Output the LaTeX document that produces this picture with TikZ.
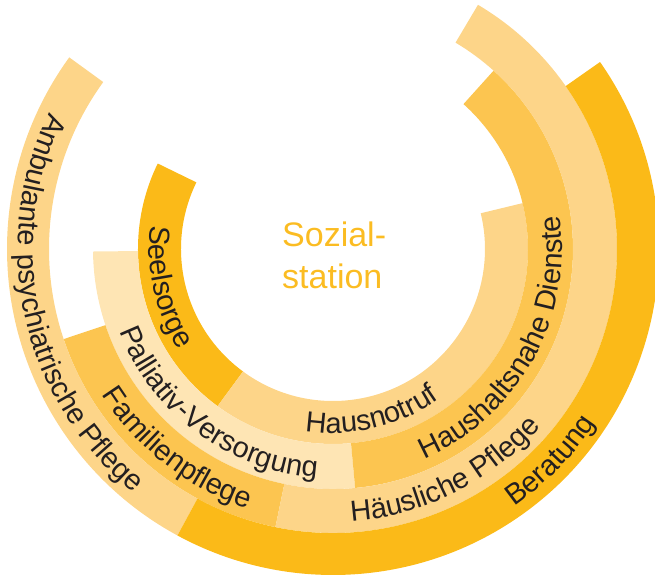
\documentclass[tikz,border=0pt]{standalone}
\usepackage{fontspec}
\setmainfont{Liberation Sans}
\usetikzlibrary{decorations.text}
\definecolor{cdark}{HTML}{FBBA18}
\definecolor{cmid}{HTML}{FCC550}
\definecolor{clight}{HTML}{FDD589}
\definecolor{cvlight}{HTML}{FEE5B4}
\definecolor{ctext}{HTML}{231F20}
\definecolor{ctitle}{HTML}{FBBC22}
\newcommand\labelfont{\fontsize{29}{29}\selectfont}
\newcommand\ringseg[5]{%
  \fill[#1] (#4:#2pt) arc[start angle=#4, end angle=#5, radius=#2pt]
    -- (#5:#3pt) arc[start angle=#5, end angle=#4, radius=#3pt] -- cycle;}
\newcommand\arclabel[4]{%
  \path[decorate, decoration={text along path, text align=center,
      text color=ctext, text={|\labelfont|#4}}]
    ({#2-#3}:#1pt) arc[start angle={#2-#3}, end angle={#2+#3}, radius=#1pt];}
\begin{document}
\begin{tikzpicture}[x=1pt,y=1pt]
\clip (-333,-326) rectangle (322,249);
\useasboundingbox (-333,-326) rectangle (322,249);
% ring 1
\ringseg{cdark}{152}{195}{154}{233.7}
\ringseg{clight}{152}{195}{233.7}{373.6}
% ring 2
\ringseg{cvlight}{195}{240}{180.6}{275.3}
\ringseg{cmid}{195}{240}{275.3}{408}
% ring 3
\ringseg{cmid}{240}{284}{198.5}{258.3}
\ringseg{clight}{240}{284}{258.3}{419.3}
% ring 4
\ringseg{clight}{284}{326}{144}{241.5}
\ringseg{cdark}{284}{326}{241.5}{395}
% labels
\arclabel{184}{193}{40}{Seelsorge}
\arclabel{184}{283.3}{40}{Hausnotruf}
\arclabel{229}{233.5}{50}{Palliativ-Versorgung}
\arclabel{229}{331}{50}{Haushaltsnahe Dienste}
\arclabel{273}{232}{40}{Familienpflege}
\arclabel{273}{296.7}{40}{Häusliche Pflege}
\arclabel{315}{192.5}{50}{Ambulante psychiatrische Pflege}
\arclabel{315}{315.8}{30}{Beratung}
% centre title
\node[anchor=base west, inner sep=0pt, text=ctitle, font=\fontsize{34}{34}\selectfont] (soz1) at (-51,2) {Sozial-};
\node[anchor=base west, inner sep=0pt, text=ctitle, font=\fontsize{34}{34}\selectfont] (soz2) at (-51,-39) {station};
\end{tikzpicture}
\end{document}
